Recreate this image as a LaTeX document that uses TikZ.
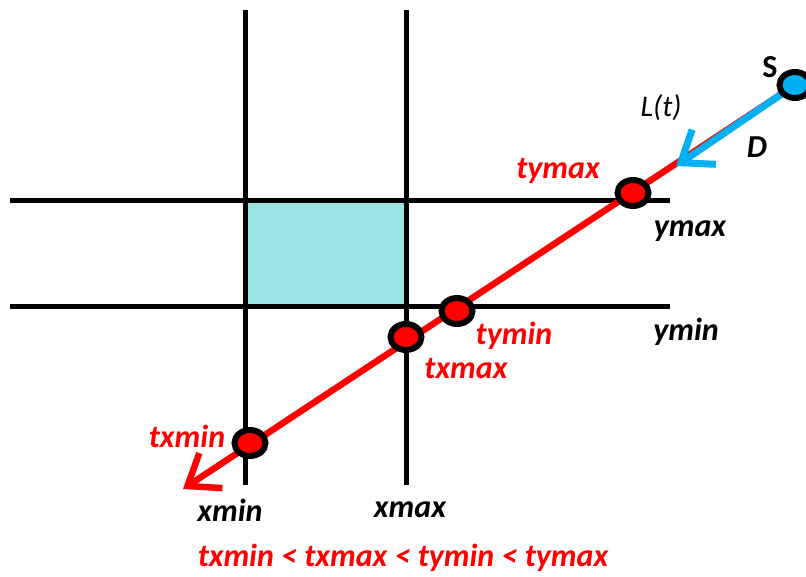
\documentclass[tikz,border=0pt]{standalone}
\usepackage{fontspec}
\setmainfont{Carlito}
\usetikzlibrary{arrows.meta,shapes.geometric}
\definecolor{ray}{HTML}{FF0000}
\definecolor{dir}{HTML}{00B0F0}
\definecolor{slab}{HTML}{9AE3E3}
\definecolor{slabedge}{HTML}{2F6F6F}

\begin{document}
\begin{tikzpicture}[x=1pt,y=-1pt,font=\bfseries\itshape\fontsize{32}{36}\selectfont,
  grid/.style={line width=5pt},
  hit/.style={ellipse,draw=black,line width=6pt,fill=ray,minimum width=31pt,minimum height=26pt,inner sep=0pt},
  redlbl/.style={text=ray},
  barb/.style={-{Straight Barb[length=28pt,width=42pt]},line cap=round}]
  \useasboundingbox (0,0) rectangle (806,577);
  % box between the slabs
  \fill[slab,draw=slabedge,line width=1.5pt] (245,201) rectangle (406,307);
  \coordinate (x1top) at (245,10);  \coordinate (x1bot) at (245,485);
  \coordinate (x2top) at (406,10);  \coordinate (x2bot) at (406,485);
  \coordinate (y1l) at (10,201);    \coordinate (y1r) at (670,201);
  \coordinate (y2l) at (10,307);    \coordinate (y2r) at (670,307);
  \draw[grid] (x1top) -- (x1bot);
  \draw[grid] (x2top) -- (x2bot);
  \draw[grid] (y1l) -- (y1r);
  \draw[grid] (y2l) -- (y2r);
  % ray
  \coordinate (pS) at (795,85);
  \coordinate (tip) at (183,489);
  \coordinate (dtip) at (676,166);
  \draw[barb,ray,line width=6.5pt] (pS) -- (tip);
  \draw[barb,dir,line width=7pt] (pS) -- (dtip);
  \node[hit] (tymax) at (633,193) {};
  \node[hit] (tymin) at (457,311) {};
  \node[hit] (txmax) at (406,337) {};
  \node[hit] (txmin) at (250,443) {};
  \node[hit,fill=dir] (S) at (pS) {};
  % labels
  \node (Slbl) at (770,67) {\upshape S};
  \node[font=\itshape\fontsize{30}{34}\selectfont] (Lt) at (661,108) {L(t)};
  \node (Dlbl) at (757,147) {D};
  \node[redlbl] (tymaxlbl) at (558,171) {tymax};
  \node (ymaxlbl) at (690,231) {ymax};
  \node[redlbl] (tyminlbl) at (514,336) {tymin};
  \node (yminlbl) at (686,332) {ymin};
  \node[redlbl] (txmaxlbl) at (466,369) {txmax};
  \node[redlbl] (txminlbl) at (187,436) {txmin};
  \node (xminlbl) at (230,510) {xmin};
  \node (xmaxlbl) at (410,510) {xmax};
  \node[redlbl,inner sep=0pt] (order) at (403,558) {txmin < txmax < tymin < tymax};
\end{tikzpicture}
\end{document}
